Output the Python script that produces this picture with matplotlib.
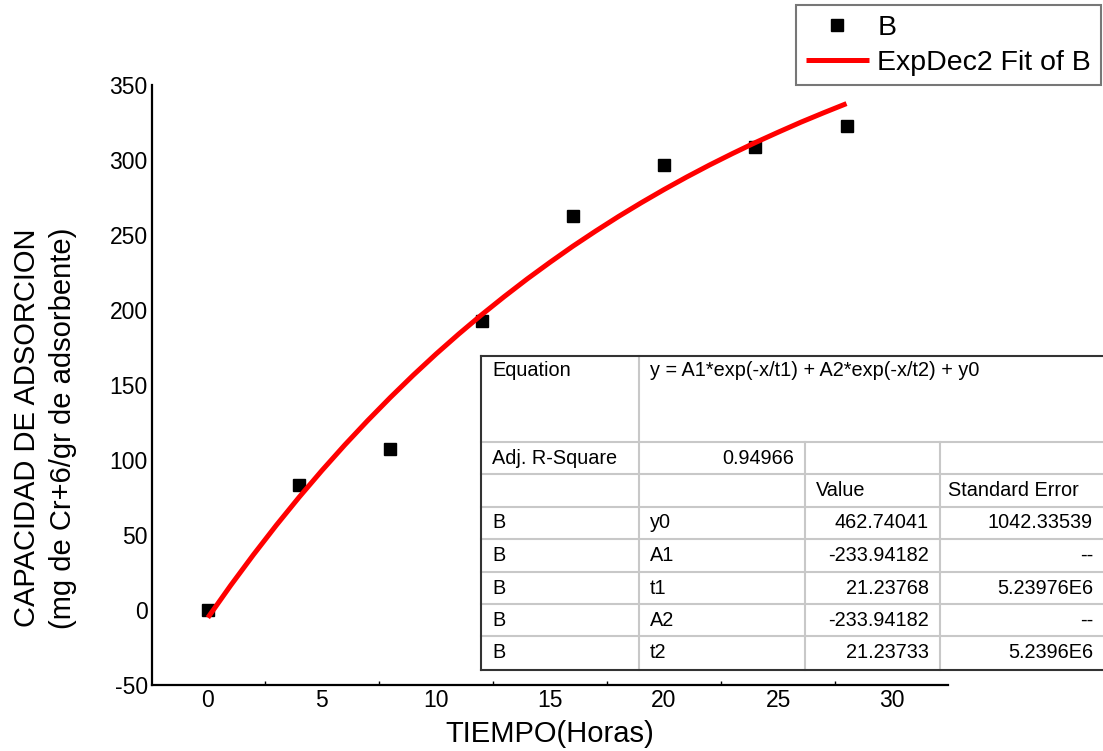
import matplotlib
matplotlib.use('Agg')
import matplotlib.pyplot as plt
from matplotlib.patches import Rectangle
from matplotlib.ticker import MultipleLocator

plt.rcParams['font.family'] = ['Liberation Sans', 'DejaVu Sans']
plt.rcParams['axes.unicode_minus'] = False

# measured data
tiempo = [0, 4, 8, 12, 16, 20, 24, 28]
capacidad = [0, 83.5, 107.5, 193, 263, 297, 308.5, 323]

# fitted curve (ExpDec2), one value per hour
fit_x = list(range(0, 29))
fit_y = [-5.1, 16.4, 36.9, 56.5, 75.2, 93.0, 110.0, 126.2, 141.7, 156.5,
         170.6, 184.0, 196.8, 209.0, 220.7, 231.8, 242.5, 252.6, 262.3,
         271.5, 280.3, 288.7, 296.7, 304.3, 311.6, 318.5, 325.2, 331.5, 337.6]

# fit report table
equation = 'y = A1*exp(-x/t1) + A2*exp(-x/t2) + y0'
adj_r2 = '0.94966'
param_names = ['y0', 'A1', 't1', 'A2', 't2']
param_values = ['462.74041', '-233.94182', '21.23768', '-233.94182', '21.23733']
param_errors = ['1042.33539', '--', '5.23976E6', '--', '5.2396E6']

W, H = 1103, 751
fig = plt.figure(figsize=(W / 100, H / 100), dpi=100)
ax = fig.add_axes([152 / W, 1 - 685 / H, (948 - 152) / W, (685 - 85) / H])

ax.plot(tiempo, capacidad, 's', color='black', markersize=8.5, label='B', zorder=2)
ax.plot(fit_x, fit_y, color='#ff0000', linewidth=3.6, solid_capstyle='butt',
        label='ExpDec2 Fit of B', zorder=3)

ax.set_xlim(-2.45, 32.45)
ax.set_ylim(-50, 350)
ax.xaxis.set_major_locator(MultipleLocator(5))
ax.xaxis.set_minor_locator(MultipleLocator(2.5))
ax.yaxis.set_major_locator(MultipleLocator(50))
ax.tick_params(axis='both', which='major', length=0, labelsize=16.5, pad=3)
ax.tick_params(axis='x', which='minor', direction='in', length=3, width=1)
ax.spines['top'].set_visible(False)
ax.spines['right'].set_visible(False)
for s in ['left', 'bottom']:
    ax.spines[s].set_linewidth(1.6)

ax.set_xlabel('TIEMPO(Horas)', fontsize=21)
ax.xaxis.set_label_coords(0.5, -0.058)
ax.xaxis.label.set_va('top')
fig.text(45 / W, 1 - 428 / H, 'CAPACIDAD DE ADSORCION\n(mg de Cr+6/gr de adsorbente)',
         rotation=90, ha='center', va='center', multialignment='center',
         fontsize=21, linespacing=1.4)

leg = fig.legend(loc='upper right', bbox_to_anchor=(1101 / W, 1 - 5 / H),
                 fontsize=20.5, frameon=True, fancybox=False, handlelength=2.2,
                 handletextpad=0.3, labelspacing=0.3, borderpad=0.35,
                 borderaxespad=0)
leg.get_frame().set_edgecolor('#555555')
leg.get_frame().set_linewidth(1.5)

# table drawn in pixel coordinates
tax = fig.add_axes([0, 0, 1, 1], facecolor='none')
tax.set_xlim(0, W)
tax.set_ylim(H, 0)
tax.axis('off')

cols = [481, 639, 805, 940, 1110]
rows = [356, 442, 474, 507, 539, 572, 604, 636, 670]
grid = '#c8c8c8'
fs = 14.3

tax.add_patch(Rectangle((cols[0], rows[0]), cols[-1] - cols[0], rows[-1] - rows[0],
                        facecolor='white', edgecolor='none'))
# horizontal inner lines
for y in rows[1:-1]:
    tax.plot([cols[0], cols[-1]], [y, y], color=grid, lw=1.5)
# vertical inner lines
tax.plot([cols[1], cols[1]], [rows[0], rows[-1]], color=grid, lw=1.5)
for x in cols[2:4]:
    tax.plot([x, x], [rows[1], rows[-1]], color=grid, lw=1.5)
# outer border
tax.plot([cols[0], cols[-1]], [rows[0], rows[0]], color='#333333', lw=1.5)
tax.plot([cols[0], cols[-1]], [rows[-1], rows[-1]], color='#333333', lw=1.5)
tax.plot([cols[0], cols[0]], [rows[0], rows[-1]], color='#333333', lw=1.5)

pad = 11
tax.text(cols[0] + pad, rows[0] + 15, 'Equation', fontsize=fs, va='center')
tax.text(cols[1] + pad, rows[0] + 15, equation, fontsize=fs, va='center')


def mid(i):
    return (rows[i] + rows[i + 1]) / 2


tax.text(cols[0] + pad, mid(1), 'Adj. R-Square', fontsize=fs, va='center')
tax.text(cols[2] - pad, mid(1), adj_r2, fontsize=fs, va='center', ha='right')
tax.text(cols[2] + pad, mid(2), 'Value', fontsize=fs, va='center')
tax.text(cols[3] + 8, mid(2), 'Standard Error', fontsize=fs, va='center')
for i, (n, v, e) in enumerate(zip(param_names, param_values, param_errors)):
    r = mid(3 + i)
    tax.text(cols[0] + pad, r, 'B', fontsize=fs, va='center')
    tax.text(cols[1] + pad, r, n, fontsize=fs, va='center')
    tax.text(cols[3] - pad, r, v, fontsize=fs, va='center', ha='right')
    tax.text(1093, r, e, fontsize=fs, va='center', ha='right')

fig.savefig('out.png', dpi=100)
